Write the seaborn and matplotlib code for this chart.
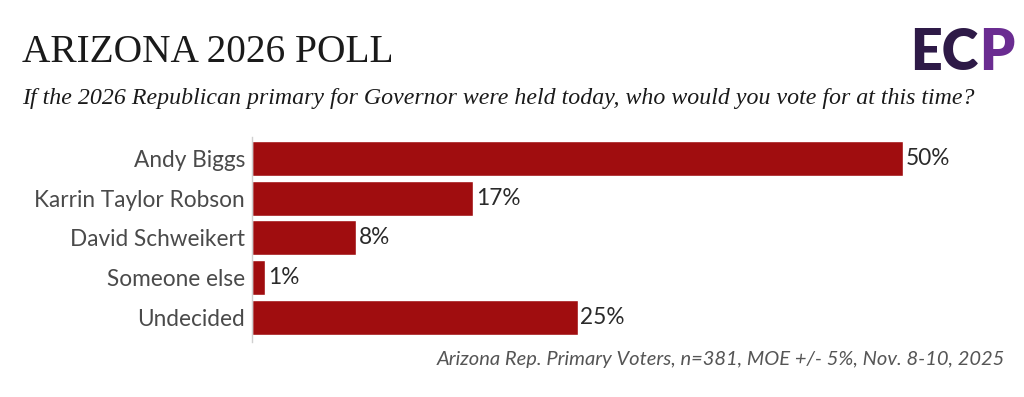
import matplotlib
matplotlib.use("Agg")
import matplotlib.pyplot as plt
import seaborn as sns
import pandas as pd

categories = ["Andy Biggs", "Karrin Taylor Robson", "David Schweikert", "Someone else", "Undecided"]
values = [50, 17, 8, 1, 25]
value_labels = ["50%", "17%", "8%", "1%", "25%"]
title = "ARIZONA 2026 POLL"
subtitle = "If the 2026 Republican primary for Governor were held today, who would you vote for at this time?"
source = "Arizona Rep. Primary Voters, n=381, MOE +/- 5%, Nov. 8-10, 2025"

sns.set_style("white")
plt.rcParams['font.family'] = ['Lato', 'DejaVu Sans']

df = pd.DataFrame({"candidate": categories, "pct": values})

fig = plt.figure(figsize=(10.24, 3.97), dpi=100)
ax = fig.add_axes([252/1024, 1-342/397, (1005-252)/1024, (342-137)/397])
sns.barplot(data=df, x="pct", y="candidate", color="#A00D0F", saturation=1,
            width=0.88, ax=ax, orient="h")
ax.set_xlim(0, 57.8)
ax.set_ylim(4.62, -0.54)
ax.set_xlabel("")
ax.set_ylabel("")
ax.set_xticks([])
for s in ["top", "right", "bottom"]:
    ax.spines[s].set_visible(False)
ax.spines["left"].set_color("#d0d0d0")
ax.spines["left"].set_linewidth(1)
ax.tick_params(axis="y", length=0, pad=5)
for lbl in ax.get_yticklabels():
    lbl.set_fontsize(16.3)
    lbl.set_color("#4a4a4a")
for i, (v, t) in enumerate(zip(values, value_labels)):
    ax.text(v + 0.2, i, t, va="center", ha="left", fontsize=16.3, color="#2a2a2a")

fig.text(22/1024, 1-62/397, title, fontsize=28.4, family="Liberation Serif", color="#1a1a1a", va="baseline")
fig.text(22/1024, 1-104/397, subtitle, fontsize=17.2, family="Liberation Serif", style="italic",
         color="#1a1a1a", va="baseline")
fig.text(1005/1024, 1-365/397, source, fontsize=14.5, style="italic", color="#555555", ha="right", va="baseline")

ec = fig.text(910/1024, 1-70/397, "EC", fontsize=40, fontweight="heavy", color="#2E1A47",
              ha="left", va="baseline")
fig.canvas.draw()
bb = ec.get_window_extent(renderer=fig.canvas.get_renderer())
fig.text((bb.x1 + 1) / 1024, 1-70/397, "P", fontsize=40, fontweight="heavy", color="#6A2C91",
         ha="left", va="baseline")

fig.savefig("out.png", dpi=100)
